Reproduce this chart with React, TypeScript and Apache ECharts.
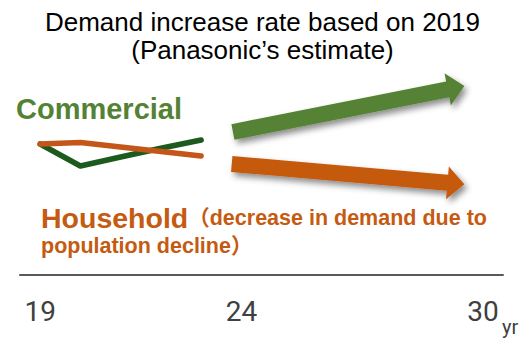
import React, { useEffect, useRef } from "react";
import * as echarts from "echarts";

// Demand index, 2019 = 100
const years = [2019, 2020, 2021, 2022, 2023];
const commercial = [100, 89, 93.5, 97.9, 102];
const household = [100, 100.7, 98.5, 96.2, 94];

// Projected trends to 2030: [startYear, startIndex, endYear, endIndex]
const commercialTrend = [2023.79, 106, 2029.54, 129];
const householdTrend = [2023.76, 90, 2029.54, 79.85];

const tickYears = [2019, 2024, 2030];

const GREEN_LINE = "#1d5a1d";
const ORANGE_LINE = "#c4561a";
const GREEN = "#548235";
const ORANGE = "#c55a11";

const SANS = "'Liberation Sans', Arial, 'Noto Sans CJK JP', sans-serif";
const AXIS_FONT = "Roboto, 'Liberation Sans', sans-serif";

function arrowRenderer(color: string) {
  return (_params: any, api: any) => {
    const p0 = api.coord([api.value(0), api.value(1)]);
    const p1 = api.coord([api.value(2), api.value(3)]);
    const dx = p1[0] - p0[0];
    const dy = p1[1] - p0[1];
    const len = Math.sqrt(dx * dx + dy * dy);
    const ux = dx / len;
    const uy = dy / len;
    const nx = -uy;
    const ny = ux;
    const body = 8;
    const head = 16.5;
    const headLen = 17;
    const bx = p1[0] - ux * headLen;
    const by = p1[1] - uy * headLen;
    const points = [
      [p0[0] + nx * body, p0[1] + ny * body],
      [bx + nx * body, by + ny * body],
      [bx + nx * head, by + ny * head],
      [p1[0], p1[1]],
      [bx - nx * head, by - ny * head],
      [bx - nx * body, by - ny * body],
      [p0[0] - nx * body, p0[1] - ny * body],
    ];
    return {
      type: "polygon",
      shape: { points },
      style: {
        fill: color,
        shadowBlur: 6,
        shadowOffsetX: 3,
        shadowOffsetY: 4,
        shadowColor: "rgba(0,0,0,0.45)",
      },
    };
  };
}

export default function App() {
  const ref = useRef<HTMLDivElement>(null);

  useEffect(() => {
    document.body.style.margin = "0";
    if (!ref.current) return;
    const chart = echarts.init(ref.current, null, { renderer: "svg" });
    chart.setOption({
      animation: false,
      backgroundColor: "#ffffff",
      title: {
        text: "Demand increase rate based on 2019\n(Panasonic’s estimate)",
        left: "center",
        top: 3,
        textStyle: {
          fontFamily: SANS,
          fontSize: 26,
          fontWeight: "normal",
          color: "#000000",
          lineHeight: 28,
        },
      },
      grid: { left: 20, right: 22, top: 60, bottom: 66 },
      xAxis: {
        type: "value",
        min: 2018.5,
        max: 2030.5,
        splitLine: { show: false },
        axisTick: { show: false },
        axisLine: { show: true, lineStyle: { color: "#595959", width: 2 } },
        axisLabel: {
          customValues: tickYears,
          formatter: (v: number) => String(v).slice(2),
          fontFamily: AXIS_FONT,
          fontSize: 28,
          color: "#404040",
          margin: 22,
        },
      },
      yAxis: {
        type: "value",
        min: 34.5,
        max: 142,
        show: false,
        splitLine: { show: false },
      },
      series: [
        {
          type: "line",
          name: "Household",
          data: years.map((y, i) => [y, household[i]]),
          symbol: "none",
          lineStyle: { color: ORANGE_LINE, width: 5.5, cap: "round", join: "round" },
          z: 2,
        },
        {
          type: "line",
          name: "Commercial",
          data: years.map((y, i) => [y, commercial[i]]),
          symbol: "none",
          lineStyle: { color: GREEN_LINE, width: 5.5, cap: "round", join: "round" },
          z: 1,
        },
        {
          type: "custom",
          name: "Commercial trend",
          renderItem: arrowRenderer(GREEN),
          encode: { x: [0, 2], y: [1, 3] },
          data: [commercialTrend],
          silent: true,
        },
        {
          type: "custom",
          name: "Household trend",
          renderItem: arrowRenderer(ORANGE),
          encode: { x: [0, 2], y: [1, 3] },
          data: [householdTrend],
          silent: true,
        },
      ],
      graphic: [
        {
          type: "text",
          x: 16,
          y: 109,
          style: {
            text: "Commercial",
            fill: GREEN,
            font: `bold 29px ${SANS}`,
            textVerticalAlign: "middle",
          },
        },
        {
          type: "text",
          x: 41,
          y: 218,
          style: {
            text: "{a|Household}{b|（decrease in demand due to}",
            textVerticalAlign: "middle",
            rich: {
              a: { fontFamily: SANS, fontWeight: "bold", fontSize: 28.5, fill: ORANGE, color: ORANGE },
              b: { fontFamily: SANS, fontWeight: "bold", fontSize: 21.5, fill: ORANGE, color: ORANGE },
            },
          },
        },
        {
          type: "text",
          x: 41,
          y: 246,
          style: {
            text: "population decline）",
            fill: ORANGE,
            font: `bold 21.5px ${SANS}`,
            textVerticalAlign: "middle",
          },
        },
        {
          type: "text",
          x: 502,
          y: 327,
          style: {
            text: "yr",
            fill: "#404040",
            font: `20px ${AXIS_FONT}`,
            textVerticalAlign: "middle",
          },
        },
      ],
    });
    return () => chart.dispose();
  }, []);

  return <div ref={ref} style={{ width: 525, height: 341 }} />;
}
